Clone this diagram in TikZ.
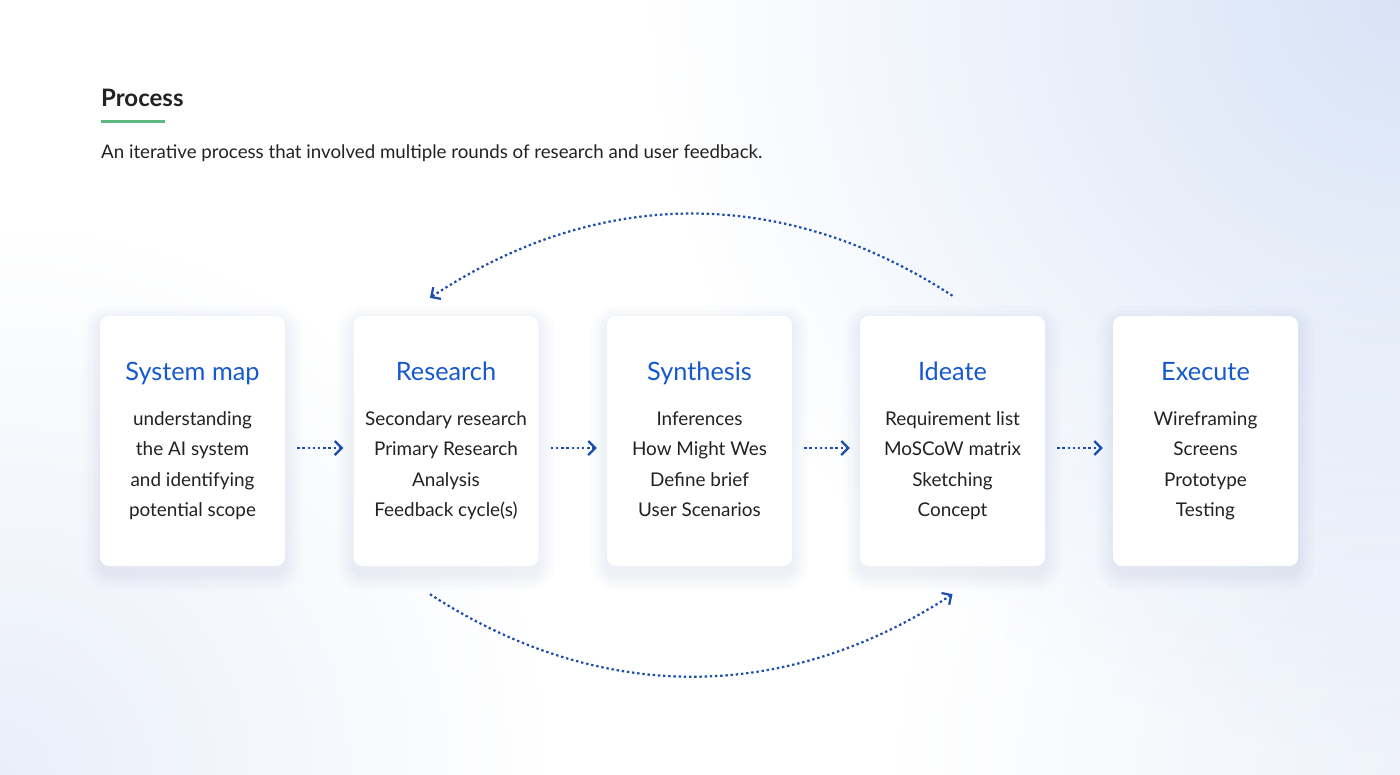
\documentclass[tikz,border=0pt]{standalone}
\usepackage{fontspec}
\setmainfont{Lato}
\usetikzlibrary{arrows.meta}
\definecolor{ink}{HTML}{222222}
\definecolor{ttl}{HTML}{1659CF}
\definecolor{arr}{HTML}{1A4DAE}
\definecolor{grn}{HTML}{5DB882}
\definecolor{bgA}{HTML}{D8E3F6}
\definecolor{bgB}{HTML}{E9EEF9}
\definecolor{bgC}{HTML}{EEF2FA}
\definecolor{shd}{HTML}{A8B4CC}
\tikzset{
  card/.style={fill=white, rounded corners=9pt, minimum width=185pt, minimum height=250pt, inner sep=0pt},
  cardtitle/.style={text=ttl, font=\fontsize{25.3}{28}\selectfont, anchor=base},
  cardline/.style={text=ink, font=\fontsize{18.9}{22}\selectfont, anchor=base},
  dotarrow/.style={draw=arr, line width=2.2pt, dash pattern=on 2.4pt off 2.8pt, -{Straight Barb[length=7pt,width=14pt,line width=2.2pt]}},
}
\begin{document}
\begin{tikzpicture}[x=1pt,y=-1pt]
\useasboundingbox (0,0) rectangle (1400,774);
% background
\fill[white] (0,0) rectangle (1400,774);
\begin{scope}[blend mode=multiply]
\shade[inner color=bgA, outer color=white] (1400,0) circle (760);
\shade[inner color=bgB, outer color=white] (0,774) circle (560);
\shade[inner color=bgC, outer color=white] (1400,774) circle (520);
\end{scope}
% header
\node[anchor=base west, text=ink, font=\fontsize{24}{28}\selectfont\bfseries, inner sep=0pt] (head) at (101,106) {Process};
\draw[grn, line width=3pt] (101,121) -- (165,121);
\node[anchor=base west, text=ink, font=\fontsize{18.7}{22}\selectfont, inner sep=0pt] (sub) at (101,158) {An iterative process that involved multiple rounds of research and user feedback.};
% shadows
\foreach \cx in {192.5,446,699.5,952.5,1205.5}{
  \foreach \g in {16,12,8,5,2}{
    \fill[shd, opacity=0.04, rounded corners=9pt+\g pt] (\cx-92.5-\g,316-\g+6) rectangle (\cx+92.5+\g,566+\g+8);
  }
}
% cards
\node[card] (b1) at (192.5,441) {};
\node[card] (b2) at (446,441) {};
\node[card] (b3) at (699.5,441) {};
\node[card] (b4) at (952.5,441) {};
\node[card] (b5) at (1205.5,441) {};
% texts
\node[cardtitle] (t1) at (192.5,380) {System map};
\node[cardline] at (192.5,425) {understanding};
\node[cardline] at (192.5,455.5) {the AI system};
\node[cardline] at (192.5,486) {and identifying};
\node[cardline] at (192.5,516.5) {potential scope};
\node[cardtitle] (t2) at (446,380) {Research};
\node[cardline] at (446,425) {Secondary research};
\node[cardline] at (446,455.5) {Primary Research};
\node[cardline] at (446,486) {Analysis};
\node[cardline] at (446,516.5) {Feedback cycle(s)};
\node[cardtitle] (t3) at (699.5,380) {Synthesis};
\node[cardline] at (699.5,425) {Inferences};
\node[cardline] at (699.5,455.5) {How Might Wes};
\node[cardline] at (699.5,486) {Define brief};
\node[cardline] at (699.5,516.5) {User Scenarios};
\node[cardtitle] (t4) at (952.5,380) {Ideate};
\node[cardline] at (952.5,425) {Requirement list};
\node[cardline] at (952.5,455.5) {MoSCoW matrix};
\node[cardline] at (952.5,486) {Sketching};
\node[cardline] at (952.5,516.5) {Concept};
\node[cardtitle] (t5) at (1205.5,380) {Execute};
\node[cardline] at (1205.5,425) {Wireframing};
\node[cardline] at (1205.5,455.5) {Screens};
\node[cardline] at (1205.5,486) {Prototype};
\node[cardline] at (1205.5,516.5) {Testing};
% horizontal connectors
\foreach \a/\b in {b1/b2,b2/b3,b3/b4,b4/b5}{
  \draw[dotarrow, shorten <=12pt, shorten >=10pt] ([yshift=-7pt]\a.east) -- ([yshift=-7pt]\b.west);
}
% loop arcs
\coordinate (topS) at ([shift={(0,-20)}]b4.north);
\coordinate (topE) at ([shift={(-16,-18)}]b2.north);
\coordinate (botS) at ([shift={(-16,28)}]b2.south);
\coordinate (botE) at ([shift={(0,28)}]b4.south);
\draw[dotarrow] (topS) .. controls (784,186) and (599,186) .. (topE);
\draw[dotarrow] (botS) .. controls (599,704) and (784,704) .. (botE);
\end{tikzpicture}
\end{document}
